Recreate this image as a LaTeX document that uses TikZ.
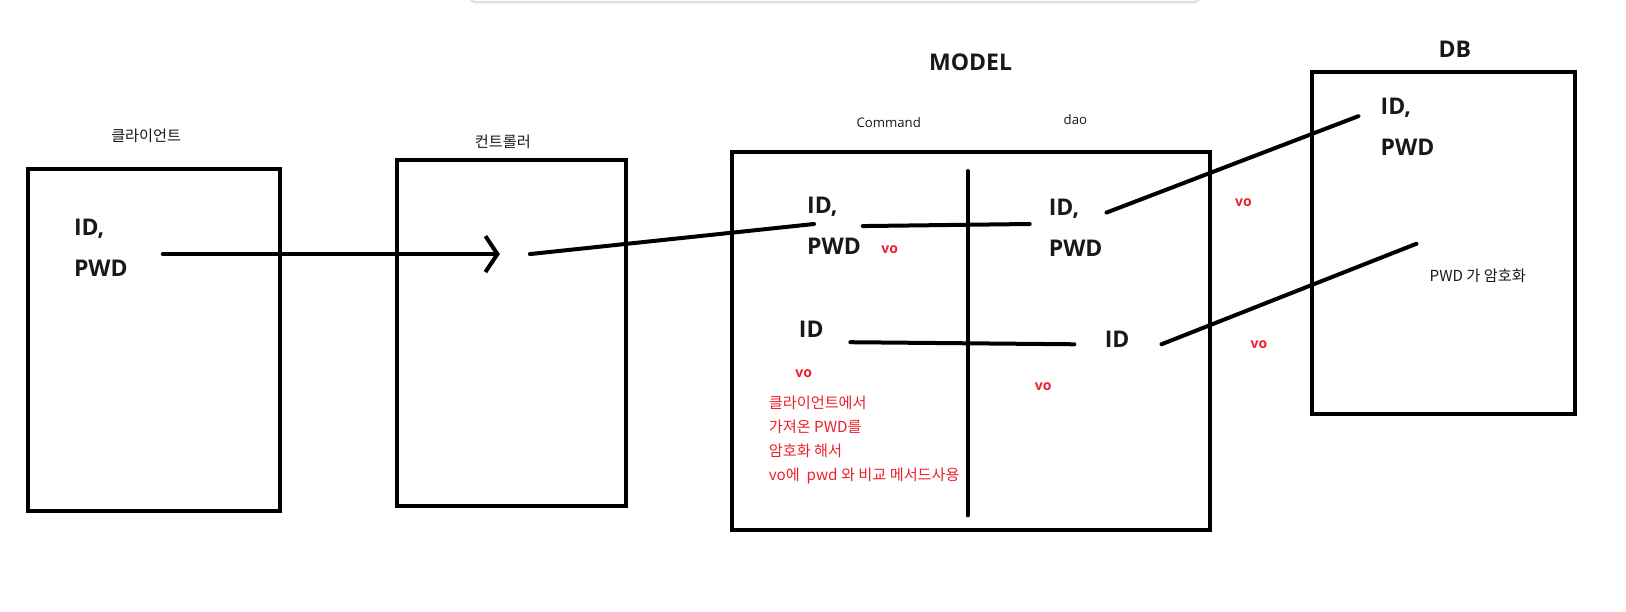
\documentclass[tikz,border=0pt]{standalone}
\usepackage{fontspec}
\setmainfont{Open Sans}
\newfontfamily\kr{Noto Sans CJK KR}
\usepackage{tikz}
\usetikzlibrary{arrows.meta}
\definecolor{voRed}{RGB}{236,32,44}
\definecolor{ink}{RGB}{24,24,24}
\tikzset{
    layer/.style={rectangle, draw=black, line width=2pt, fill=none, inner sep=0pt},
    field/.style={font=\fontsize{11.5}{20.5}\selectfont\bfseries, text=ink, align=left, inner sep=0pt, anchor=west},
    title/.style={font=\fontsize{11.5}{14}\selectfont\bfseries, text=ink, inner sep=0pt},
    caption/.style={font=\fontsize{6.6}{9}\selectfont, text=ink, inner sep=0pt},
    krcaption/.style={font=\kr\fontsize{7.6}{9}\selectfont, text=ink, inner sep=0pt},
    vo/.style={font=\fontsize{7}{9}\selectfont\bfseries, text=voRed, inner sep=0pt},
    note/.style={font=\kr\fontsize{7.6}{12}\selectfont, text=voRed, align=left, inner sep=0pt, anchor=west},
    wire/.style={line width=2pt, line cap=round},
    arrow/.style={-{Straight Barb[length=6pt, width=18pt]}, wire}
}

\begin{document}
\begin{tikzpicture}[x=0.5185pt, y=-0.5185pt]
    \useasboundingbox (0,0) rectangle (1568,590);
    % window edge at the top
    \draw[black!12, line width=1.2pt, rounded corners=3pt] (453,-6) -- (453,2) -- (1157,2) -- (1157,-6);

    % Layers
    \node[layer, minimum width=126pt, minimum height=171.1pt] (Client) at (148.5,328) {};
    \node[layer, minimum width=114.6pt, minimum height=173.2pt] (Ctrl) at (493.5,321) {};
    \node[layer, minimum width=239pt, minimum height=188.7pt] (Model) at (936.5,329) {};
    \node[layer, minimum width=131.7pt, minimum height=171.1pt] (DB) at (1392,234) {};

    % Titles
    \node[krcaption] (ClientT) at (141,131) {클라이언트};
    \node[krcaption] (CtrlT) at (485,137) {컨트롤러};
    \node[title] (ModelT) at (936,60) {MODEL};
    \node[caption] (CmdT) at (857,118) {Command};
    \node[caption] (DaoT) at (1037,115) {dao};
    \node[title] (DBT) at (1403,48) {DB};

    % Fields
    \node[field] (ClientF) at (71,238.5) {ID,\\PWD};
    \node[field] (CmdF) at (778,217.5) {ID,\\PWD};
    \node[field] (DaoF) at (1011,219.5) {ID,\\PWD};
    \node[field] (DBF) at (1331,122) {ID,\\PWD};
    \node[field] (CmdId) at (770,318) {ID};
    \node[field] (DaoId) at (1065,327) {ID};

    % vo labels
    \node[vo] (vo1) at (858,241) {vo};
    \node[vo] (vo2) at (775,360) {vo};
    \node[vo] (vo3) at (1006,373) {vo};
    \node[vo] (vo4) at (1199,195) {vo};
    \node[vo] (vo5) at (1214,332) {vo};
    \node[note] (Hash) at (741,424) {클라이언트에서\\가져온 PWD를\\암호화 해서\\vo에~ pwd 와 비교 메서드사용};
    \node[krcaption] (DBNote) at (1425,266) {PWD 가 암호화};

    % Divider
    \coordinate (divTop) at (933,165);
    \coordinate (divBot) at (933,497);
    \draw[wire] (divTop) -- (divBot);

    % Connectors
    \coordinate (a1) at (157,245);
    \coordinate (a2) at (482,245);
    \coordinate (b1) at (511,245);
    \coordinate (b2) at (785,216);
    \coordinate (c1) at (832,218);
    \coordinate (c2) at (993,216);
    \coordinate (d1) at (1067,205);
    \coordinate (d2) at (1310,112);
    \coordinate (e1) at (820,330);
    \coordinate (e2) at (1036,332);
    \coordinate (f1) at (1120,332);
    \coordinate (f2) at (1366,235);
    \draw[arrow] (a1) -- (a2);
    \draw[wire] (b1) -- (b2);
    \draw[wire] (c1) -- (c2);
    \draw[wire] (d1) -- (d2);
    \draw[wire] (e1) -- (e2);
    \draw[wire] (f1) -- (f2);
\end{tikzpicture}
\end{document}
